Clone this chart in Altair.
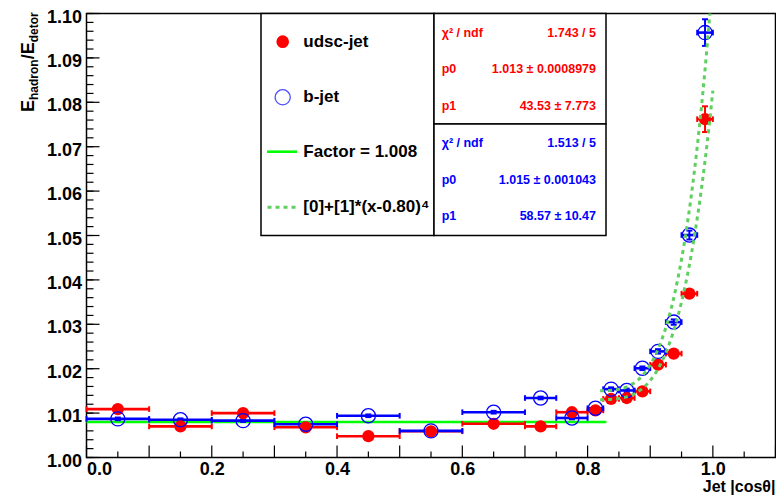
import altair as alt
import pandas as pd
import numpy as np

FONT = "Liberation Sans"

# ---------------- data ----------------
bin_edges = [0.0, 0.1, 0.2, 0.3, 0.4, 0.5, 0.6, 0.7, 0.75, 0.8, 0.825, 0.85,
             0.875, 0.9, 0.925, 0.95, 0.975, 1.0]
bin_centers = [0.05, 0.15, 0.25, 0.35, 0.45, 0.55, 0.65, 0.725, 0.775, 0.8125,
               0.8375, 0.8625, 0.8875, 0.9125, 0.9375, 0.9625, 0.9875]
udsc_vals = [1.0109, 1.0070, 1.0100, 1.0068, 1.0048, 1.0059, 1.0076, 1.0070,
             1.0102, 1.0106, 1.0132, 1.0134, 1.0149, 1.0209, 1.0234, 1.0369, 1.0762]
udsc_errs = [0.0003, 0.0003, 0.0003, 0.0003, 0.0003, 0.0003, 0.0003, 0.0003,
             0.0003, 0.0003, 0.0003, 0.0003, 0.0004, 0.0004, 0.0005, 0.0008, 0.0029]
bjet_vals = [1.0087, 1.0085, 1.0083, 1.0075, 1.0094, 1.0060, 1.0102, 1.0134,
             1.0089, 1.0111, 1.0154, 1.0151, 1.0201, 1.0239, 1.0305, 1.0501, 1.0957]
bjet_errs = [0.0003, 0.0003, 0.0003, 0.0003, 0.0003, 0.0003, 0.0003, 0.0003,
             0.0003, 0.0003, 0.0004, 0.0004, 0.0004, 0.0005, 0.0006, 0.0010, 0.0030]

factor = 1.008
factor_range = [0.0, 0.83]
fit_udsc = {"p0": 1.013, "p1": 43.53, "chi2": "1.743 / 5", "e0": "0.0008979", "e1": "7.773"}
fit_bjet = {"p0": 1.015, "p1": 58.57, "chi2": "1.513 / 5", "e0": "0.001043", "e1": "10.47"}
fit_range = [0.82, 1.0]

x_labels = [0.0, 0.2, 0.4, 0.6, 0.8, 1.0]
y_labels = [1.00, 1.01, 1.02, 1.03, 1.04, 1.05, 1.06, 1.07, 1.08, 1.09, 1.10]

RED = "#ff0000"
BLUE = "#0000ff"
GREEN = "#00ff00"
DGREEN = "#5fcf5f"

W, H = 689, 444
xscale = alt.Scale(domain=[0, 1.1], nice=False, zero=False)
yscale = alt.Scale(domain=[1.0, 1.1], nice=False, zero=False)

xaxis = alt.Axis(values=x_labels, format=".1f", ticks=False, domain=False, grid=False,
                 labelFont=FONT, labelFontWeight="bold", labelFontSize=18,
                 labelColor="black", labelPadding=3, title=None)
yaxis = alt.Axis(values=y_labels, format=".2f", ticks=False, domain=False, grid=False,
                 labelFont=FONT, labelFontWeight="bold", labelFontSize=18,
                 labelColor="black", labelPadding=5, labelOffset=3.5, title=None)


def X(f):
    return alt.X(f, type="quantitative", scale=xscale, axis=xaxis)


def Y(f):
    return alt.Y(f, type="quantitative", scale=yscale, axis=yaxis)


def series(vals, errs, color, filled):
    df = pd.DataFrame({"c": bin_centers, "lo": bin_edges[:-1], "hi": bin_edges[1:],
                       "v": vals, "e": errs})
    df["vlo"] = df["v"] - df["e"]
    df["vhi"] = df["v"] + df["e"]
    b = alt.Chart(df)
    hbar = b.mark_rule(color=color, strokeWidth=2.6).encode(x=X("lo"), x2="hi", y=Y("v"))
    capl = b.mark_rule(color=color, strokeWidth=2, yOffset=-2.8, y2Offset=2.8).encode(
        x=X("lo"), y=Y("v"), y2="v")
    capr = b.mark_rule(color=color, strokeWidth=2, yOffset=-2.8, y2Offset=2.8).encode(
        x=X("hi"), y=Y("v"), y2="v")
    vbar = b.mark_rule(color=color, strokeWidth=2).encode(x=X("c"), y=Y("vlo"), y2="vhi")
    capd = b.mark_rule(color=color, strokeWidth=2, xOffset=-3, x2Offset=3).encode(
        x=X("c"), x2="c", y=Y("vlo"))
    capu = b.mark_rule(color=color, strokeWidth=2, xOffset=-3, x2Offset=3).encode(
        x=X("c"), x2="c", y=Y("vhi"))
    bars = hbar + capl + capr + vbar + capd + capu
    if filled:
        pts = b.mark_circle(color=color, size=150, opacity=1).encode(x=X("c"), y=Y("v"))
    else:
        pts = b.mark_point(shape="circle", filled=False, color=color, size=200,
                           strokeWidth=1.3, opacity=1).encode(x=X("c"), y=Y("v"))
    return bars, pts


red_bars, red_pts = series(udsc_vals, udsc_errs, RED, True)
blue_bars, blue_pts = series(bjet_vals, bjet_errs, BLUE, False)

factor_df = pd.DataFrame({"x0": [factor_range[0]], "x1": [factor_range[1]], "y": [factor]})
factor_line = alt.Chart(factor_df).mark_rule(color=GREEN, strokeWidth=2.6).encode(
    x=X("x0"), x2="x1", y=Y("y"))


def fit_curve(p):
    return (alt.Chart(alt.sequence(fit_range[0], fit_range[1] + 0.0001, 0.002, as_="x"))
            .transform_calculate(y=f"{p['p0']} + {p['p1']} * pow(datum.x - 0.80, 4)")
            .mark_line(color=DGREEN, strokeWidth=3, strokeDash=[4, 4], clip=True)
            .encode(x=X("x:Q"), y=Y("y:Q")))


curves = fit_curve(fit_udsc) + fit_curve(fit_bjet)

# inner ticks
ymaj = pd.DataFrame({"t": y_labels})
ymin = pd.DataFrame({"t": np.round(np.arange(1.0, 1.1001, 0.002), 4)})
xmaj = pd.DataFrame({"t": np.round(np.arange(0.0, 1.1001, 0.1), 4)})
xmin = pd.DataFrame({"t": np.round(np.arange(0.05, 1.1001, 0.1), 4)})
ticks = (
    alt.Chart(ymin).mark_rule(color="black", strokeWidth=1.2).encode(
        y=Y("t"), x=alt.value(0), x2=alt.value(7))
    + alt.Chart(ymaj).mark_rule(color="black", strokeWidth=1.2).encode(
        y=Y("t"), x=alt.value(0), x2=alt.value(13))
    + alt.Chart(xmaj).mark_rule(color="black", strokeWidth=1.2).encode(
        x=X("t"), y=alt.value(H), y2=alt.value(H - 12))
    + alt.Chart(xmin).mark_rule(color="black", strokeWidth=1.2).encode(
        x=X("t"), y=alt.value(H), y2=alt.value(H - 6))
)

one = pd.DataFrame({"_": [0]})


def label(s, x, y, size=17, color="black", align="left", angle=0, baseline="middle"):
    return alt.Chart(one).mark_text(text=s, align=align, baseline=baseline, fontSize=size,
                                    font=FONT, fontWeight="bold", color=color,
                                    angle=angle).encode(x=alt.value(x), y=alt.value(y))


def box(x0, x1, y0, y1):
    return alt.Chart(one).mark_rect(fill="white", stroke="black", strokeWidth=1.5).encode(
        x=alt.value(x0), x2=alt.value(x1), y=alt.value(y0), y2=alt.value(y1))


# legend
legend = (
    box(174.5, 347.5, 0, 222)
    + alt.Chart(one).mark_circle(color=RED, size=160, opacity=1).encode(
        x=alt.value(196.2), y=alt.value(28.2))
    + alt.Chart(one).mark_point(shape="circle", filled=False, color=BLUE, size=230,
                                strokeWidth=1.3).encode(x=alt.value(196.2), y=alt.value(83.8))
    + alt.Chart(one).mark_rule(color=GREEN, strokeWidth=2.6).encode(
        x=alt.value(180.5), x2=alt.value(210.5), y=alt.value(138.2))
    + alt.Chart(one).mark_rule(color=DGREEN, strokeWidth=3, strokeDash=[4, 4]).encode(
        x=alt.value(181), x2=alt.value(212), y=alt.value(193.8))
    + label("udsc-jet", 216.8, 28.2)
    + label("b-jet", 216.8, 83.8)
    + label(f"Factor = {factor:.3f}", 216.8, 138.2)
    + label("[0]+[1]*(x-0.80)⁴", 216.8, 193.8)
)

# stats boxes
SL, SR, SZ = 355.2, 509.5, 12.5
stats = (
    box(347.5, 519.5, 0, 110.5) + box(347.5, 519.5, 110.5, 222)
    + label("χ² / ndf", SL, 19.2, SZ, RED) + label(fit_udsc["chi2"], SR, 19.2, SZ, RED, "right")
    + label("p0", SL, 55.8, SZ, RED)
    + label(f"{fit_udsc['p0']:.3f} ± {fit_udsc['e0']}", SR, 55.8, SZ, RED, "right")
    + label("p1", SL, 92.5, SZ, RED)
    + label(f"{fit_udsc['p1']:.2f} ± {fit_udsc['e1']}", SR, 92.5, SZ, RED, "right")
    + label("χ² / ndf", SL, 129.8, SZ, BLUE) + label(fit_bjet["chi2"], SR, 129.8, SZ, BLUE, "right")
    + label("p0", SL, 166.5, SZ, BLUE)
    + label(f"{fit_bjet['p0']:.3f} ± {fit_bjet['e0']}", SR, 166.5, SZ, BLUE, "right")
    + label("p1", SL, 202.5, SZ, BLUE)
    + label(f"{fit_bjet['p1']:.2f} ± {fit_bjet['e1']}", SR, 202.5, SZ, BLUE, "right")
)

# axis titles
titles = (
    label("E", -53, 98.5, 18, angle=270, baseline="alphabetic")
    + label("hadron", -49, 86.5, 12, angle=270, baseline="alphabetic")
    + label("/E", -53, 45.8, 18, angle=270, baseline="alphabetic")
    + label("detor", -49, 28.8, 12, angle=270, baseline="alphabetic")
    + label("Jet |cosθ|", W, 478.5, 16, align="right", baseline="alphabetic")
)

chart = alt.layer(
    ticks, factor_line, red_bars, blue_bars, red_pts, blue_pts, curves,
    legend, stats, titles
).properties(
    width=W, height=H,
    autosize=alt.AutoSizeParams(type="none"),
    padding={"left": 78.5, "top": 5.5, "right": 0.5, "bottom": 37},
    background="white",
).configure_view(stroke="black", strokeWidth=1.5)

chart.save("out.html", embed_options={"renderer": "svg", "actions": False})
